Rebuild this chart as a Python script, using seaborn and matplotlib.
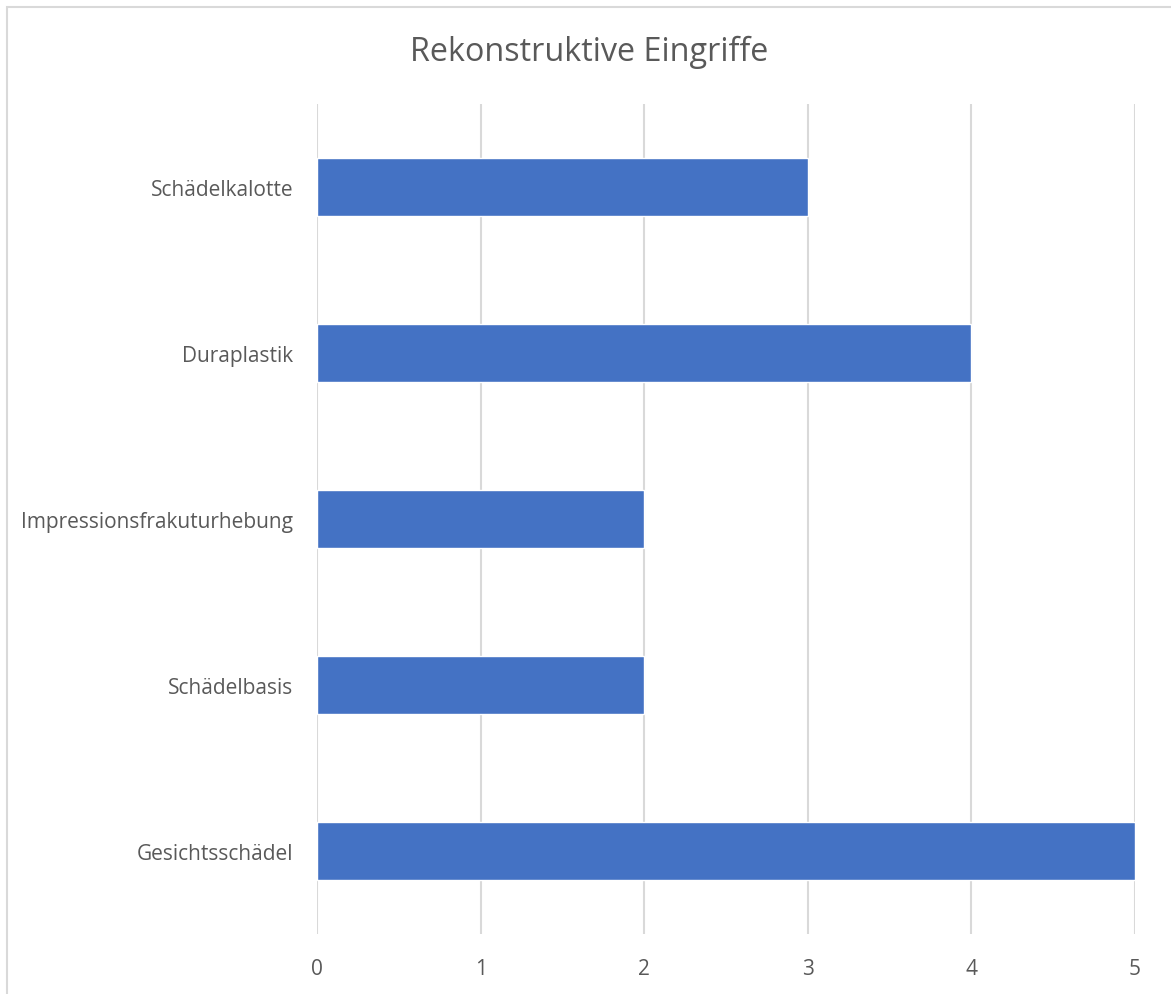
import matplotlib
matplotlib.use("Agg")
import matplotlib.pyplot as plt
import seaborn as sns
import pandas as pd
from matplotlib.patches import Rectangle

categories = ["Schädelkalotte", "Duraplastik", "Impressionsfrakuturhebung", "Schädelbasis", "Gesichtsschädel"]
values = [3, 4, 2, 2, 5]
x_ticks = [0, 1, 2, 3, 4, 5]
title = "Rekonstruktive Eingriffe"

sns.set_theme(style="white")
plt.rcParams['font.family'] = ['Open Sans', 'DejaVu Sans']

W, H = 1171, 995
fig = plt.figure(figsize=(W / 100, H / 100), dpi=100)
ax = fig.add_axes([317 / W, 1 - 935 / H, (1135 - 317) / W, (935 - 105) / H])

df = pd.DataFrame({"cat": categories, "val": values})
sns.barplot(data=df, x="val", y="cat", orient="h", color="#4472C4", saturation=1,
            width=0.355, ax=ax, zorder=3)

ax.set_xlim(0, 5)
ax.set_ylim(4.5, -0.5)
ax.set_xticks(x_ticks)
ax.set_xlabel("")
ax.set_ylabel("")
for s in ax.spines.values():
    s.set_visible(False)
ax.grid(axis="x", color="#D9D9D9", linewidth=1.5, zorder=0)
ax.grid(axis="y", visible=False)
ax.tick_params(axis="both", length=0, labelsize=15, labelcolor="#595959")
ax.tick_params(axis="x", pad=17)
ax.tick_params(axis="y", pad=17)

fig.text(589 / W, 1 - 52 / H, title, ha="center", va="center", fontsize=23.3, color="#595959")

fig.patches.append(Rectangle((6.5 / W, -0.1), 1.2, 1 - 7.5 / H + 0.1, transform=fig.transFigure,
                             fill=False, edgecolor="#D9D9D9", linewidth=1.5))

fig.savefig("out.png", dpi=100)
